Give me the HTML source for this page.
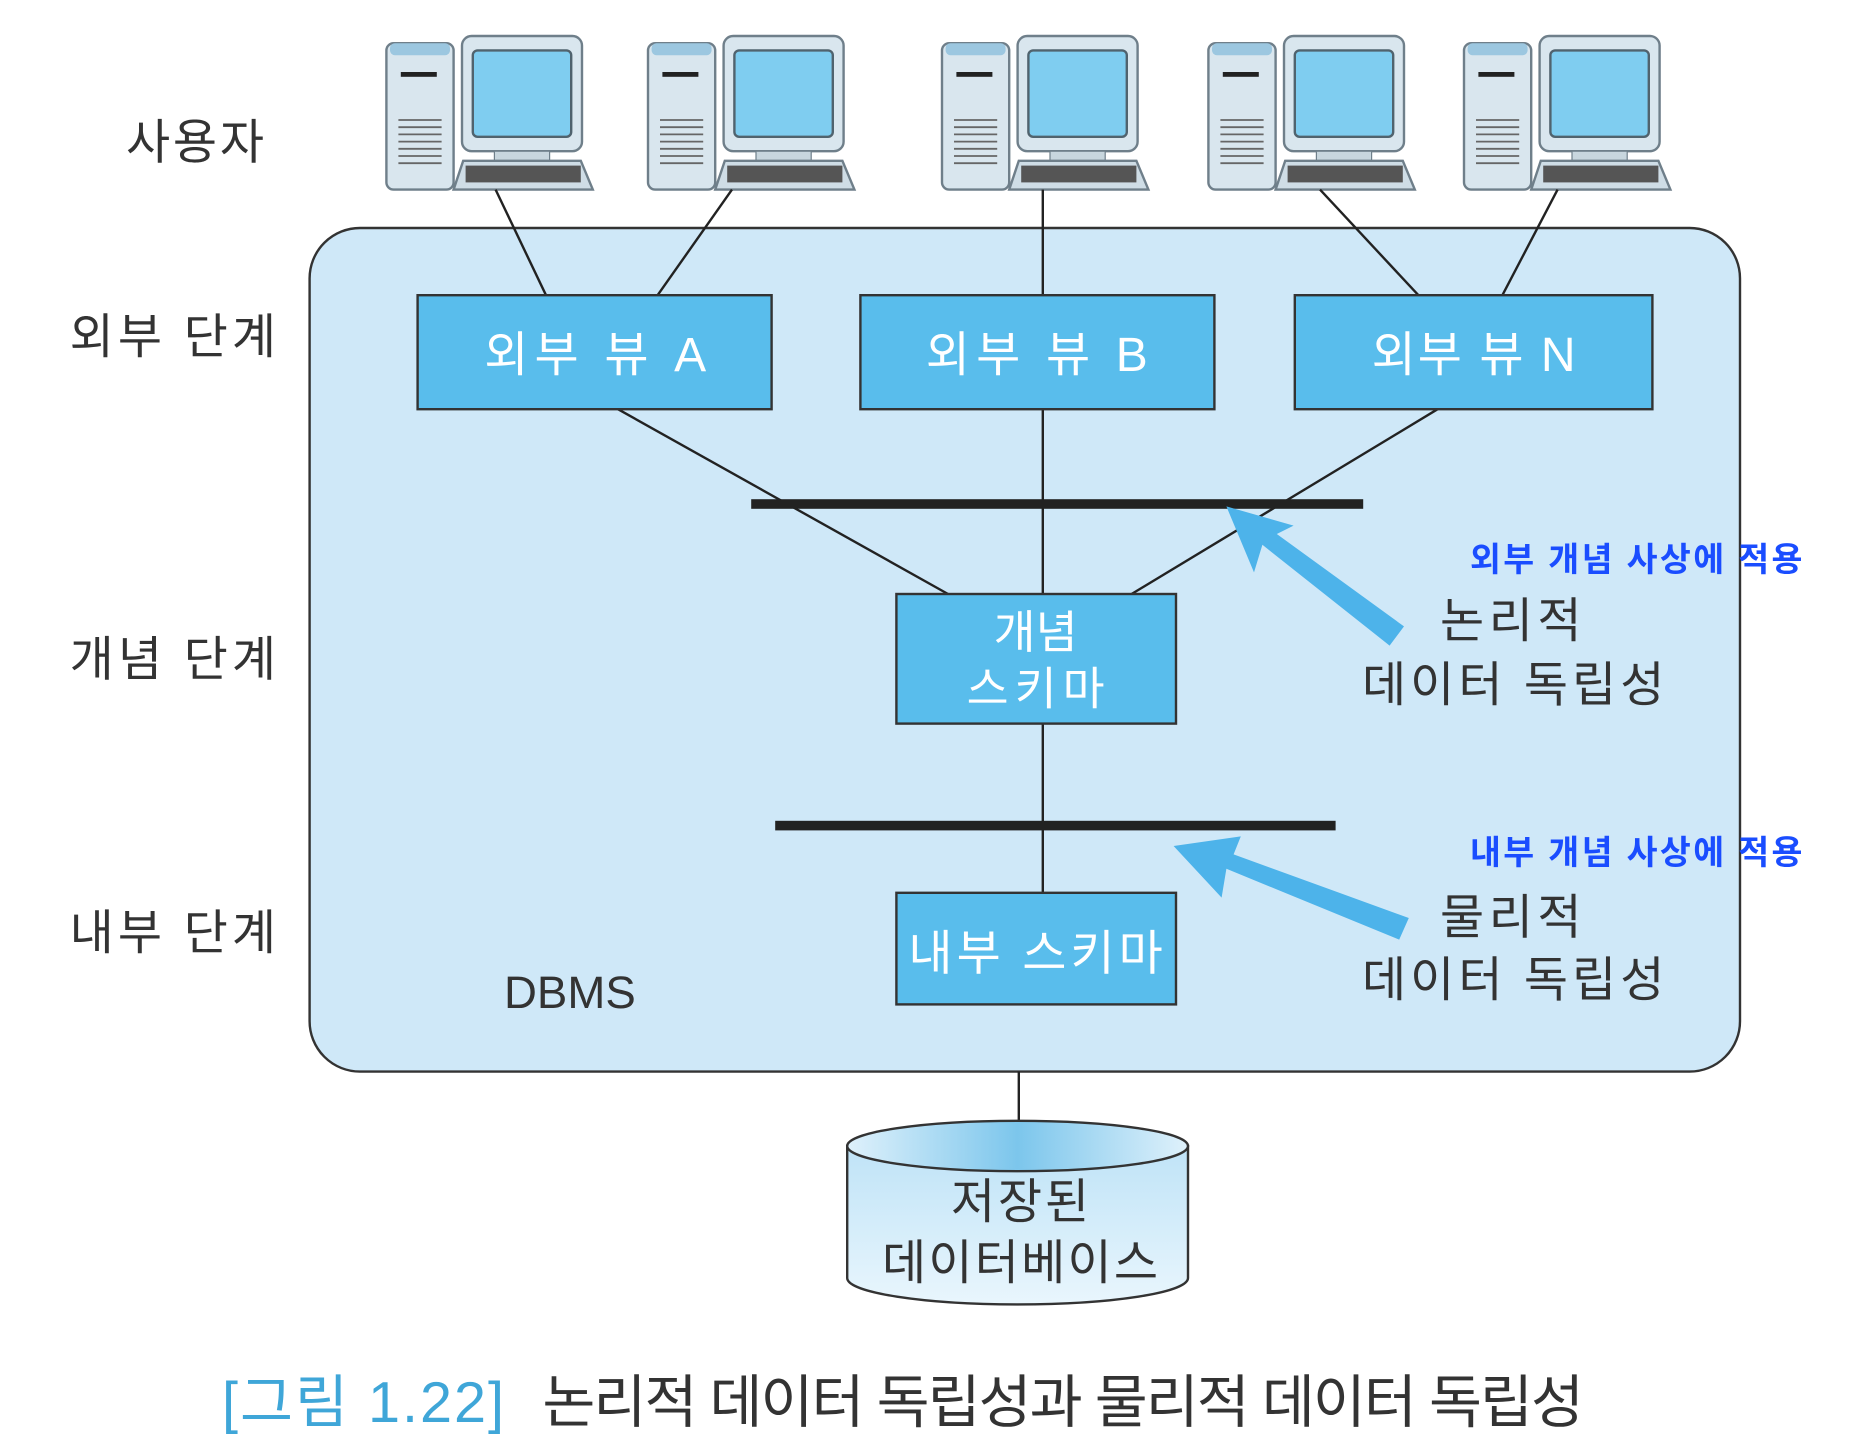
<!DOCTYPE html>
<html><head><meta charset="utf-8"><style>
html,body{margin:0;padding:0;background:#fff;width:1860px;height:1452px;overflow:hidden}
svg{display:block}
text{font-family:"Liberation Sans","Noto Sans CJK KR",sans-serif}
</style></head><body>
<svg width="1860" height="1452" viewBox="0 0 1550 1210" xmlns="http://www.w3.org/2000/svg">
<defs>
<linearGradient id="cyl" x1="0" y1="0" x2="0" y2="1"><stop offset="0" stop-color="#bfe3f7"/><stop offset="1" stop-color="#e9f6fd"/></linearGradient>
<linearGradient id="cyltop" x1="0" y1="0" x2="1" y2="0"><stop offset="0" stop-color="#dff1fb"/><stop offset="0.5" stop-color="#7cc6ec"/><stop offset="1" stop-color="#dff1fb"/></linearGradient>
<g id="pc">
  <rect x="0" y="6" width="56" height="122" rx="6" fill="#d9e6ee" stroke="#6f7f8a" stroke-width="2"/>
  <rect x="3" y="6" width="50" height="10" rx="4" fill="#9cc7e0"/>
  <rect x="12" y="30" width="30" height="4" fill="#222"/>
  <g stroke="#666" stroke-width="1.5"><line x1="10" y1="70" x2="46" y2="70"/><line x1="10" y1="76" x2="46" y2="76"/><line x1="10" y1="82" x2="46" y2="82"/><line x1="10" y1="88" x2="46" y2="88"/><line x1="10" y1="94" x2="46" y2="94"/><line x1="10" y1="100" x2="46" y2="100"/><line x1="10" y1="106" x2="46" y2="106"/></g>
  <rect x="63" y="0" width="100" height="96" rx="8" fill="#d9e6ee" stroke="#6f7f8a" stroke-width="2"/>
  <rect x="72" y="12" width="82" height="72" rx="4" fill="#7fcdf0" stroke="#50636e" stroke-width="2"/>
  <rect x="90" y="96" width="46" height="8" fill="#c8d6de" stroke="#6f7f8a"/>
  <polygon points="64,104 162,104 172,128 56,128" fill="#cfdde6" stroke="#6f7f8a" stroke-width="2"/>
  <rect x="66" y="108" width="96" height="14" fill="#555"/>
</g>
</defs>
<use href="#pc" x="322" y="30"/>
<use href="#pc" x="540" y="30"/>
<use href="#pc" x="785" y="30"/>
<use href="#pc" x="1007" y="30"/>
<use href="#pc" x="1220" y="30"/>

<rect x="258" y="190" width="1192" height="703" rx="42" fill="#cfe8f8" stroke="#333" stroke-width="2"/>

<g stroke="#222" stroke-width="2">
<line x1="413" y1="158" x2="455" y2="246"/>
<line x1="610" y1="158" x2="548" y2="246"/>
<line x1="869" y1="158" x2="869" y2="246"/>
<line x1="1100" y1="158" x2="1182" y2="246"/>
<line x1="1298" y1="158" x2="1252" y2="246"/>
<line x1="515" y1="341" x2="790" y2="495"/>
<line x1="869" y1="341" x2="869" y2="495"/>
<line x1="1198" y1="341" x2="943" y2="495"/>
<line x1="869" y1="603" x2="869" y2="744"/>
<line x1="849" y1="893" x2="849" y2="937"/>
</g>
<rect x="626" y="416" width="510" height="8" fill="#222"/>
<rect x="646" y="684" width="467" height="8" fill="#222"/>

<g fill="#59bdec" stroke="#333" stroke-width="2">
<rect x="348" y="246" width="295" height="95"/>
<rect x="717" y="246" width="295" height="95"/>
<rect x="1079" y="246" width="298" height="95"/>
<rect x="747" y="495" width="233" height="108"/>
<rect x="747" y="744" width="233" height="93"/>
</g>
<g fill="#fff" font-size="40" text-anchor="middle">
<text x="496" y="309" textLength="185">외부 뷰 A</text>
<text x="864" y="309" textLength="185">외부 뷰 B</text>
<text x="1228" y="309" textLength="170">외부 뷰 N</text>
<text x="863" y="540" font-size="38">개념</text>
<text x="863" y="587" font-size="38" textLength="115">스키마</text>
<text x="863" y="808" font-size="40" textLength="212">내부 스키마</text>
</g>

<!-- arrows -->
<g fill="#4db3ea">
<polygon points="1170,522 1158,538 1052,454 1045,477 1022,422 1078,438 1064,445"/>
<polygon points="1174,765 1166,783 1022,724 1018,748 978,705 1034,697 1028,712"/>
</g>

<g fill="#333" font-size="40">
<text x="105" y="132" textLength="115">사용자</text>
<text x="58" y="294" textLength="172">외부 단계</text>
<text x="58" y="563" textLength="172">개념 단계</text>
<text x="58" y="791" textLength="172">내부 단계</text>
<text x="420" y="840" font-size="38">DBMS</text>
<text x="1200" y="531" textLength="118">논리적</text>
<text x="1135" y="584" textLength="252">데이터 독립성</text>
<text x="1200" y="778" textLength="118">물리적</text>
<text x="1135" y="830" textLength="252">데이터 독립성</text>
</g>
<g fill="#1a4dff" font-size="28" font-weight="bold">
<text x="1225" y="476" textLength="277">외부 개념 사상에 적용</text>
<text x="1225" y="720" textLength="277">내부 개념 사상에 적용</text>
</g>

<!-- cylinder -->
<path d="M706,955 L706,1065 A142,22 0 0 0 990,1065 L990,955 Z" fill="url(#cyl)" stroke="#333" stroke-width="2"/>
<ellipse cx="848" cy="955" rx="142" ry="21" fill="url(#cyltop)" stroke="#333" stroke-width="2"/>
<g fill="#333" font-size="40" text-anchor="middle">
<text x="850" y="1015" textLength="115">저장된</text>
<text x="850" y="1066" textLength="230">데이터베이스</text>
</g>

<text x="185" y="1185" font-size="48" fill="#3fa6d8" textLength="235">[그림 1.22]</text>
<text x="452" y="1185" font-size="48" fill="#333" textLength="868">논리적 데이터 독립성과 물리적 데이터 독립성</text>
</svg>
</body></html>
